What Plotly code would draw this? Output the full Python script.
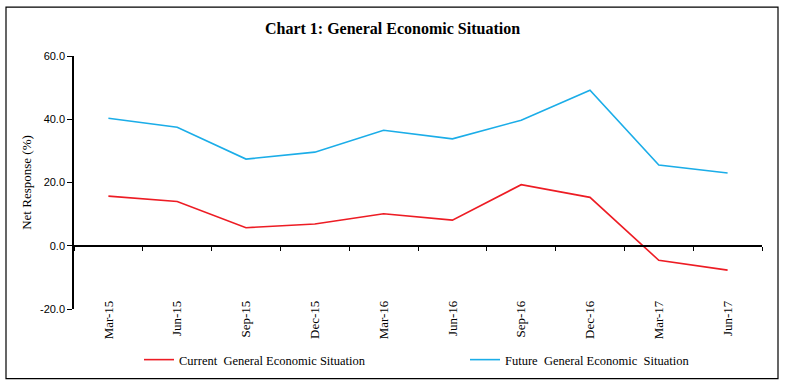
import plotly.graph_objects as go

categories = ["Mar-15", "Jun-15", "Sep-15", "Dec-15", "Mar-16", "Jun-16",
              "Sep-16", "Dec-16", "Mar-17", "Jun-17"]
current_ges = [15.7, 14.0, 5.7, 6.9, 10.1, 8.1, 19.3, 15.3, -4.6, -7.7]
future_ges = [40.3, 37.5, 27.4, 29.6, 36.5, 33.8, 39.7, 49.2, 25.5, 23.0]
y_ticks = [-20, 0, 20, 40, 60]
y_ticklabels = ["%.1f" % v for v in y_ticks]

SERIF = "Liberation Serif"
SANS = "Liberation Sans"

L, R, T, B = 74, 23, 56, 76
W, H = 785, 386
pw, ph = W - L - R, H - T - B

fig = go.Figure()
fig.add_trace(go.Scatter(
    x=categories, y=current_ges, mode="lines",
    name="Current\u00a0 General Economic Situation",
    line=dict(color="#ED1C24", width=1.6), xaxis="x", yaxis="y",
    legendwidth=281))
fig.add_trace(go.Scatter(
    x=categories, y=future_ges, mode="lines",
    name="Future\u00a0 General Economic\u00a0 Situation",
    line=dict(color="#1BADE8", width=1.6), xaxis="x2", yaxis="y",
    legendwidth=190))

ymin, ymax = -20, 60
zero_pos = (0 - ymin) / (ymax - ymin)

fig.update_layout(
    width=W, height=H,
    margin=dict(l=L, r=R, t=T, b=B),
    paper_bgcolor="white", plot_bgcolor="white",
    title=dict(text="<b>Chart 1: General Economic Situation</b>",
               x=0.5, xanchor="center", y=1 - 28 / H, yanchor="middle",
               font=dict(family=SERIF, size=16, color="black")),
    xaxis=dict(type="category", categoryorder="array", categoryarray=categories,
               range=[-0.5, len(categories) - 0.5], automargin=False,
               showline=False, showgrid=False, zeroline=False, ticks="",
               tickangle=-90, anchor="free", position=12 / ph,
               tickfont=dict(family=SERIF, size=13, color="black")),
    xaxis2=dict(type="category", categoryorder="array", categoryarray=categories,
                matches="x", overlaying="x", anchor="free", position=zero_pos,
                side="bottom", showline=True, linecolor="black", linewidth=1.5,
                ticks="outside", ticklen=4, tickcolor="black", tickwidth=1,
                tickson="boundaries", showticklabels=False, showgrid=False,
                zeroline=False, automargin=False),
    yaxis=dict(range=[ymin, ymax], tickvals=y_ticks, ticktext=y_ticklabels,
               showline=True, linecolor="black", linewidth=1.5,
               ticks="outside", ticklen=5, tickcolor="black",
               showgrid=False, zeroline=False, automargin=False,
               tickfont=dict(family=SANS, size=11, color="black"),
               title=dict(text="Net Response (%)", standoff=5,
                          font=dict(family=SERIF, size=13, color="black"))),
    legend=dict(orientation="h", x=(139 - L) / pw, xanchor="left",
                y=-(360 - (T + ph)) / ph, yanchor="middle",
                bgcolor="rgba(0,0,0,0)",
                font=dict(family=SERIF, size=12.5, color="black")),
    showlegend=True,
)

fig.add_shape(type="rect", xref="paper", yref="paper",
              x0=(6 - L) / pw, x1=(778 - L) / pw,
              y0=(T + ph - 380) / ph, y1=(T + ph - 7) / ph,
              line=dict(color="black", width=1.2), fillcolor="rgba(0,0,0,0)",
              layer="below")

fig.write_html("out.html", config={"displayModeBar": False},
               post_script="document.body.style.margin='0';document.body.style.overflow='hidden';")
